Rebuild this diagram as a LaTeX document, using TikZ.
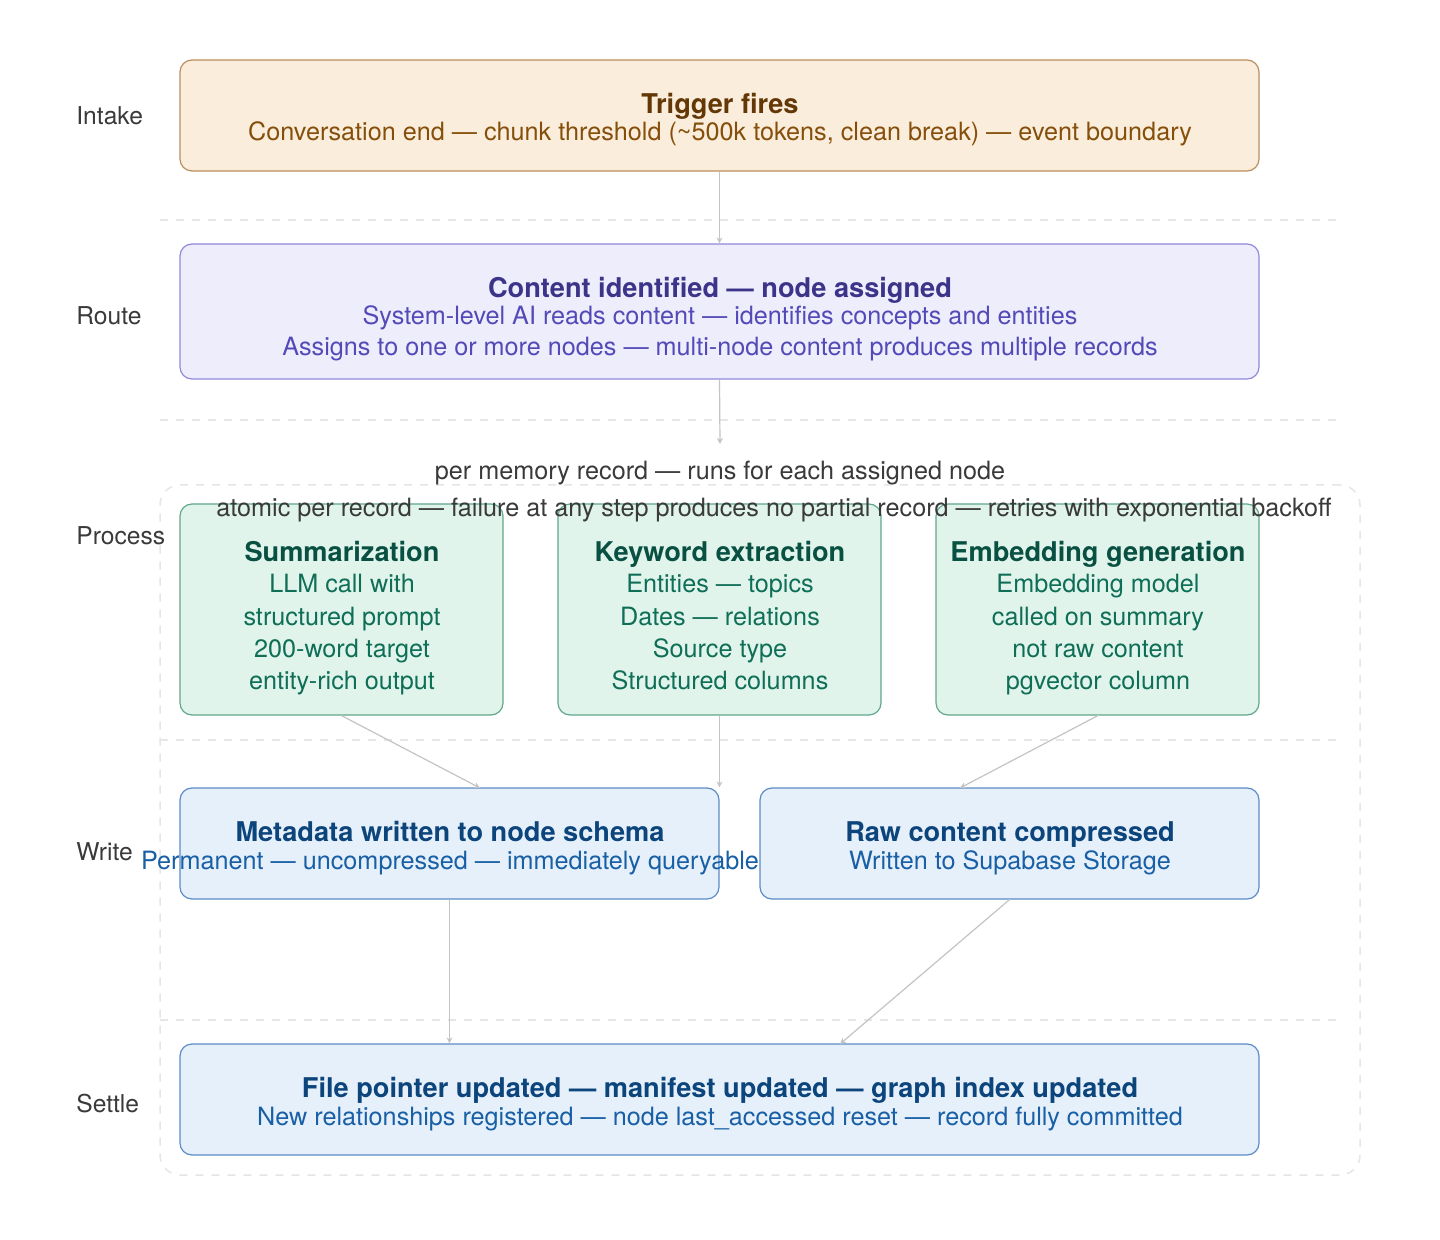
\documentclass[tikz,border=0pt]{standalone}
\usepackage{fontspec}
\setmainfont{TeX Gyre Heros}
\usetikzlibrary{arrows.meta,fit}
\definecolor{sepgray}{HTML}{E6E6E6}
\definecolor{arrgray}{HTML}{C4C4C4}
\definecolor{lblgray}{HTML}{3A3A3A}
\definecolor{orfill}{HTML}{FAEDDB}
\definecolor{ordraw}{HTML}{BA8E5E}
\definecolor{ortitle}{HTML}{633806}
\definecolor{ortext}{HTML}{854F0B}
\definecolor{pufill}{HTML}{EEEDFC}
\definecolor{pudraw}{HTML}{8F89DA}
\definecolor{putitle}{HTML}{3C3489}
\definecolor{putext}{HTML}{534AB7}
\definecolor{grfill}{HTML}{E1F4EC}
\definecolor{grdraw}{HTML}{5FA88C}
\definecolor{grtitle}{HTML}{085041}
\definecolor{grtext}{HTML}{0F6E56}
\definecolor{blfill}{HTML}{E6F0FA}
\definecolor{bldraw}{HTML}{5B8CC8}
\definecolor{bltitle}{HTML}{0C447C}
\definecolor{bltext}{HTML}{185FA5}
\begin{document}
\begin{tikzpicture}[x=0.5pt,y=-0.5pt,
  box/.style={draw, rounded corners=6pt, line width=0.6pt, inner sep=0pt},
  sep/.style={draw=sepgray, line width=0.75pt, dash pattern=on 4pt off 4pt},
  conn/.style={draw=arrgray, line width=0.6pt, -{Stealth[length=3pt,width=3pt]}},
  ttl/.style={font=\fontsize{13.6}{16}\selectfont\bfseries, inner sep=0pt, text height=9.8pt, text depth=0pt},
  txt/.style={font=\fontsize{12.6}{15}\selectfont, inner sep=0pt, text height=9pt, text depth=0pt},
  lane/.style={font=\fontsize{12.3}{15}\selectfont, inner sep=0pt, text height=8.8pt, text depth=0pt, text=lblgray, anchor=west}
]
\useasboundingbox[fill=white] (0,0) rectangle (1440,1240);

% separators
\draw[sep] (160,220) -- (1340,220);
\draw[sep] (160,420) -- (1340,420);
\draw[sep] (160,740) -- (1340,740);
\draw[sep] (160,1020) -- (1340,1020);

% group
\node[draw=sepgray, line width=0.75pt, dash pattern=on 4pt off 4pt, rounded corners=10pt, inner sep=0pt, fit={(160,485) (1360,1175)}] (grp) {};

% lane labels
\node[lane] (lIntake) at (76,116) {Intake};
\node[lane] (lRoute) at (76,316) {Route};
\node[lane] (lProcess) at (76,536) {Process};
\node[lane] (lWrite) at (76,852) {Write};
\node[lane] (lSettle) at (76,1104) {Settle};

% intake
\node[box, fill=orfill, draw=ordraw, fit={(180,60) (1259,171)}] (intake) {};
\node[ttl, text=ortitle] (intakeT) at (720,104) {Trigger fires};
\node[txt, text=ortext] (intakeS) at (720,132) {Conversation end — chunk threshold (\textasciitilde500k tokens, clean break) — event boundary};

% route
\node[box, fill=pufill, draw=pudraw, fit={(180,244) (1259,379)}] (route) {};
\node[ttl, text=putitle] (routeT) at (720,288) {Content identified — node assigned};
\node[txt, text=putext] (routeS1) at (720,316) {System-level AI reads content — identifies concepts and entities};
\node[txt, text=putext] (routeS2) at (720,347) {Assigns to one or more nodes — multi-node content produces multiple records};

% process notes
\coordinate (routeEnd) at (720,444);
\node[txt, text=lblgray] (perrec) at (720,471) {per memory record — runs for each assigned node};

% green boxes
\node[box, fill=grfill, draw=grdraw, fit={(180,504) (503,715)}] (summ) {};
\node[box, fill=grfill, draw=grdraw, fit={(558,504) (881,715)}] (kw) {};
\node[box, fill=grfill, draw=grdraw, fit={(936,504) (1259,715)}] (emb) {};

\node[txt, text=lblgray] (atomic) at (774,508) {atomic per record — failure at any step produces no partial record — retries with exponential backoff};

\node[ttl, text=grtitle] (summT) at (342,552) {Summarization};
\node[txt, text=grtext] (summ1) at (342,584) {LLM call with};
\node[txt, text=grtext] (summ2) at (342,616) {structured prompt};
\node[txt, text=grtext] (summ3) at (342,648) {200-word target};
\node[txt, text=grtext] (summ4) at (342,680) {entity-rich output};

\node[ttl, text=grtitle] (kwT) at (720,552) {Keyword extraction};
\node[txt, text=grtext] (kw1) at (720,584) {Entities — topics};
\node[txt, text=grtext] (kw2) at (720,616) {Dates — relations};
\node[txt, text=grtext] (kw3) at (720,648) {Source type};
\node[txt, text=grtext] (kw4) at (720,680) {Structured columns};

\node[ttl, text=grtitle] (embT) at (1098,552) {Embedding generation};
\node[txt, text=grtext] (emb1) at (1098,584) {Embedding model};
\node[txt, text=grtext] (emb2) at (1098,616) {called on summary};
\node[txt, text=grtext] (emb3) at (1098,648) {not raw content};
\node[txt, text=grtext] (emb4) at (1098,680) {pgvector column};

% write
\node[box, fill=blfill, draw=bldraw, fit={(180,788) (719,899)}] (meta) {};
\node[box, fill=blfill, draw=bldraw, fit={(760,788) (1259,899)}] (raw) {};
\node[ttl, text=bltitle] (metaT) at (450,832) {Metadata written to node schema};
\node[txt, text=bltext] (metaS) at (450,860) {Permanent — uncompressed — immediately queryable};
\node[ttl, text=bltitle] (rawT) at (1010,832) {Raw content compressed};
\node[txt, text=bltext] (rawS) at (1010,860) {Written to Supabase Storage};

% settle
\node[box, fill=blfill, draw=bldraw, fit={(180,1044) (1259,1155)}] (settle) {};
\node[ttl, text=bltitle] (settleT) at (720,1088) {File pointer updated — manifest updated — graph index updated};
\node[txt, text=bltext] (settleS) at (720,1116) {New relationships registered — node last\_accessed reset — record fully committed};

% connectors
\draw[conn] (intake.south) -- (route.north);
\draw[conn] (route.south) -- (routeEnd);
\draw[conn] (summ.south) -- (480,788);
\draw[conn] (kw.south) -- (kw.south |- meta.north);
\draw[conn] (1099,715) -- (960,788);
\draw[conn] (meta.south) -- (meta.south |- settle.north);
\draw[conn] (raw.south) -- (840,1044);
\end{tikzpicture}
\end{document}
